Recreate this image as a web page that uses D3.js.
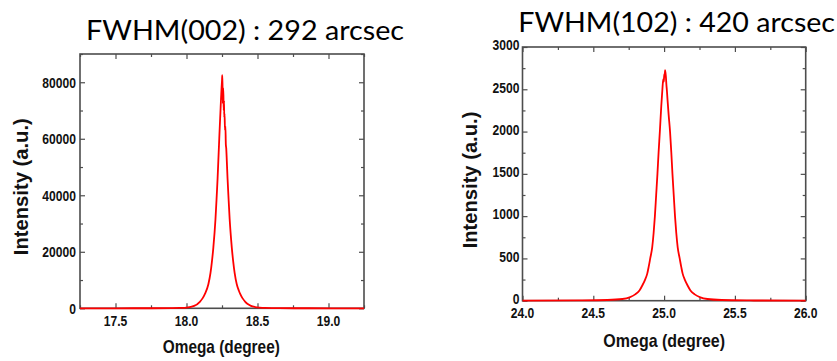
<!DOCTYPE html>
<html><head><meta charset="utf-8">
<script src="https://cdn.jsdelivr.net/npm/d3@7"></script>
<style>
html,body{margin:0;padding:0;background:#fff;}
svg{display:block;}
</style></head><body>
<svg id="chart" width="837" height="361"></svg>
<script>
// (002) omega rocking curve
const omega002 = [17.25, 17.50, 17.75, 17.90, 17.95, 18.000, 18.054, 18.094, 18.114, 18.129, 18.154, 18.169,
  18.179, 18.189, 18.204, 18.213, 18.219, 18.224, 18.229, 18.234, 18.239, 18.243, 18.247, 18.250, 18.252,
  18.254, 18.256, 18.258, 18.260, 18.262, 18.264, 18.266, 18.268, 18.271, 18.274, 18.277, 18.280, 18.284,
  18.289, 18.295, 18.304, 18.314, 18.319, 18.329, 18.339, 18.354, 18.369, 18.379, 18.394, 18.414, 18.434,
  18.454, 18.484, 18.514, 18.554, 18.654, 18.854, 19.25];
const intensity002 = [0, 5, 20, 80, 150, 270, 850, 2300, 3600, 5000, 8500, 12500,
  16500, 21500, 31500, 40000, 46000, 52000, 58000, 64000, 69500, 74000, 78000, 80500, 82500,
  78000, 72500, 78000, 75500, 70000, 73500, 67500, 69000, 63000, 64500, 58000, 56500, 52000,
  46000, 40000, 31500, 24500, 21500, 16500, 12500, 8500, 6200, 5000, 3600, 2300, 1400,
  850, 450, 250, 120, 40, 10, 0];
const xTicks002 = [17.5, 18.0, 18.5, 19.0];
const yTicks002 = [0, 20000, 40000, 60000, 80000];
const title002 = "FWHM(002) : 292 arcsec";

// (102) omega rocking curve
const omega102 = [24.00, 24.40, 24.60, 24.706, 24.756, 24.796, 24.826, 24.846, 24.866, 24.881, 24.891, 24.902,
  24.916, 24.926, 24.935, 24.944, 24.953, 24.961, 24.970, 24.980, 24.988, 24.994, 24.998, 25.001, 25.004,
  25.007, 25.010, 25.013, 25.016, 25.020, 25.024, 25.032, 25.042, 25.051, 25.059, 25.068, 25.077, 25.086,
  25.096, 25.110, 25.121, 25.131, 25.146, 25.166, 25.186, 25.216, 25.256, 25.306, 25.406, 25.606, 26.00];
const intensity102 = [0, 3, 8, 20, 40, 75, 120, 180, 250, 320, 400, 500,
  630, 800, 1000, 1250, 1500, 1750, 2000, 2300, 2500, 2620, 2590, 2680, 2650,
  2725, 2690, 2640, 2560, 2480, 2380, 2200, 2000, 1750, 1500, 1250, 1000, 800,
  630, 500, 400, 320, 250, 180, 120, 75, 40, 20, 8, 3, 0];
const xTicks102 = [24.0, 24.5, 25.0, 25.5, 26.0];
const yTicks102 = [0, 500, 1000, 1500, 2000, 2500, 3000];
const title102 = "FWHM(102) : 420 arcsec";

const xAxisTitle = "Omega (degree)";
const yAxisTitle = "Intensity (a.u.)";

const svg = d3.select("#chart");
const FRAME = "#4d4d4d";
const INK = "#111";
const SQUEEZE = 0.78;

const panels = [
  { omega: omega002, intensity: intensity002, xDomain: [17.25, 19.25], yDomain: [0, 90000],
    xMajor: xTicks002, yMajor: yTicks002, xStep: 0.25, yStep: 10000, title: title002,
    box: { left: 80, right: 364, top: 54, bottom: 308.3 },
    titlePos: { x: 86, y: 40, len: 318 },
    xLabel: { x: 221.3, y: 352.7, len: 117 }, yLabel: { x: 28.3, y: 186.7, len: 137 },
    xTickDy: 17.7, yTickDx: -4, yTickDy: 0 },
  { omega: omega102, intensity: intensity102, xDomain: [24, 26], yDomain: [0, 3000],
    xMajor: xTicks102, yMajor: yTicks102, xStep: 0.25, yStep: 250, title: title102,
    box: { left: 522.5, right: 805.7, top: 47, bottom: 300.7 },
    titlePos: { x: 518.3, y: 31.7, len: 316.7 },
    xLabel: { x: 664.2, y: 346.7, len: 121.7 }, yLabel: { x: 476.7, y: 180, len: 136.7 },
    xTickDy: 16.8, yTickDx: -3, yTickDy: -2.2 }
];

function squeeze(sel) {
  sel.each(function () {
    const w = this.getComputedTextLength();
    d3.select(this).attr("textLength", w * SQUEEZE).attr("lengthAdjust", "spacingAndGlyphs");
  });
}

function stepTicks(domain, step) {
  const n = Math.round((domain[1] - domain[0]) / step);
  return d3.range(n + 1).map(i => +(domain[0] + i * step).toFixed(4));
}

panels.forEach(p => {
  const b = p.box;
  const x = d3.scaleLinear().domain(p.xDomain).range([b.left, b.right]);
  const y = d3.scaleLinear().domain(p.yDomain).range([b.bottom, b.top]);
  const g = svg.append("g");

  const xAll = stepTicks(p.xDomain, p.xStep);
  const yAll = stepTicks(p.yDomain, p.yStep);
  const isMajor = (v, list) => list.some(m => Math.abs(m - v) < 1e-6);
  const xMinor = xAll.filter(v => !isMajor(v, p.xMajor));
  const yMinor = yAll.filter(v => !isMajor(v, p.yMajor));

  const tickStyle = sel => {
    sel.select(".domain").remove();
    sel.selectAll(".tick line").attr("stroke", FRAME).attr("stroke-width", 1.2);
    sel.selectAll(".tick text").remove();
  };

  // inward ticks on all four sides
  [[d3.axisBottom, b.bottom, "x"], [d3.axisTop, b.top, "x"],
   [d3.axisLeft, b.left, "y"], [d3.axisRight, b.right, "y"]].forEach(([ax, pos, dim]) => {
    const sc = dim === "x" ? x : y;
    const major = dim === "x" ? p.xMajor : p.yMajor;
    const minor = dim === "x" ? xMinor : yMinor;
    const tr = dim === "x" ? `translate(0,${pos})` : `translate(${pos},0)`;
    g.append("g").attr("transform", tr).call(ax(sc).tickValues(major).tickSize(-5)).call(tickStyle);
    g.append("g").attr("transform", tr).call(ax(sc).tickValues(minor).tickSize(-3)).call(tickStyle);
  });

  // frame
  g.append("rect")
    .attr("x", b.left).attr("y", b.top)
    .attr("width", b.right - b.left).attr("height", b.bottom - b.top)
    .attr("fill", "none").attr("stroke", FRAME).attr("stroke-width", 1.6);

  // tick labels
  g.append("g").selectAll("text").data(p.xMajor).join("text")
    .attr("x", d => x(d)).attr("y", b.bottom + p.xTickDy)
    .attr("text-anchor", "middle")
    .attr("font-family", "'Liberation Sans', Arial, sans-serif")
    .attr("font-weight", "bold").attr("font-size", 15.5).attr("fill", INK)
    .text(d => d3.format(".1f")(d))
    .call(squeeze);

  g.append("g").selectAll("text").data(p.yMajor).join("text")
    .attr("x", b.left + p.yTickDx).attr("y", d => y(d) + p.yTickDy).attr("dy", "0.35em")
    .attr("text-anchor", "end")
    .attr("font-family", "'Liberation Sans', Arial, sans-serif")
    .attr("font-weight", "bold").attr("font-size", 15.5).attr("fill", INK)
    .text(d => d3.format("d")(d))
    .call(squeeze);

  // curve
  const pts = p.omega.map((o, i) => [o, p.intensity[i]]);
  g.append("path")
    .datum(pts)
    .attr("fill", "none").attr("stroke", "#ff0000").attr("stroke-width", 1.8)
    .attr("stroke-linejoin", "round")
    .attr("d", d3.line().x(d => x(d[0])).y(d => y(d[1])).curve(d3.curveMonotoneX));

  // axis titles
  g.append("text")
    .attr("x", p.xLabel.x).attr("y", p.xLabel.y)
    .attr("text-anchor", "middle")
    .attr("font-family", "'Liberation Sans', Arial, sans-serif")
    .attr("font-weight", "bold").attr("font-size", 19).attr("fill", INK)
    .attr("textLength", p.xLabel.len).attr("lengthAdjust", "spacingAndGlyphs")
    .text(xAxisTitle);

  g.append("text")
    .attr("transform", `translate(${p.yLabel.x},${p.yLabel.y}) rotate(-90)`)
    .attr("text-anchor", "middle")
    .attr("font-family", "'Liberation Sans', Arial, sans-serif")
    .attr("font-weight", "bold").attr("font-size", 20).attr("fill", INK)
    .attr("textLength", p.yLabel.len).attr("lengthAdjust", "spacingAndGlyphs")
    .text(yAxisTitle);

  // panel title
  g.append("text")
    .attr("x", p.titlePos.x).attr("y", p.titlePos.y)
    .attr("font-family", "Lato, 'Open Sans', sans-serif")
    .attr("font-size", 27).attr("fill", "#000")
    .attr("textLength", p.titlePos.len).attr("lengthAdjust", "spacingAndGlyphs")
    .text(p.title);
});
</script>
</body></html>
